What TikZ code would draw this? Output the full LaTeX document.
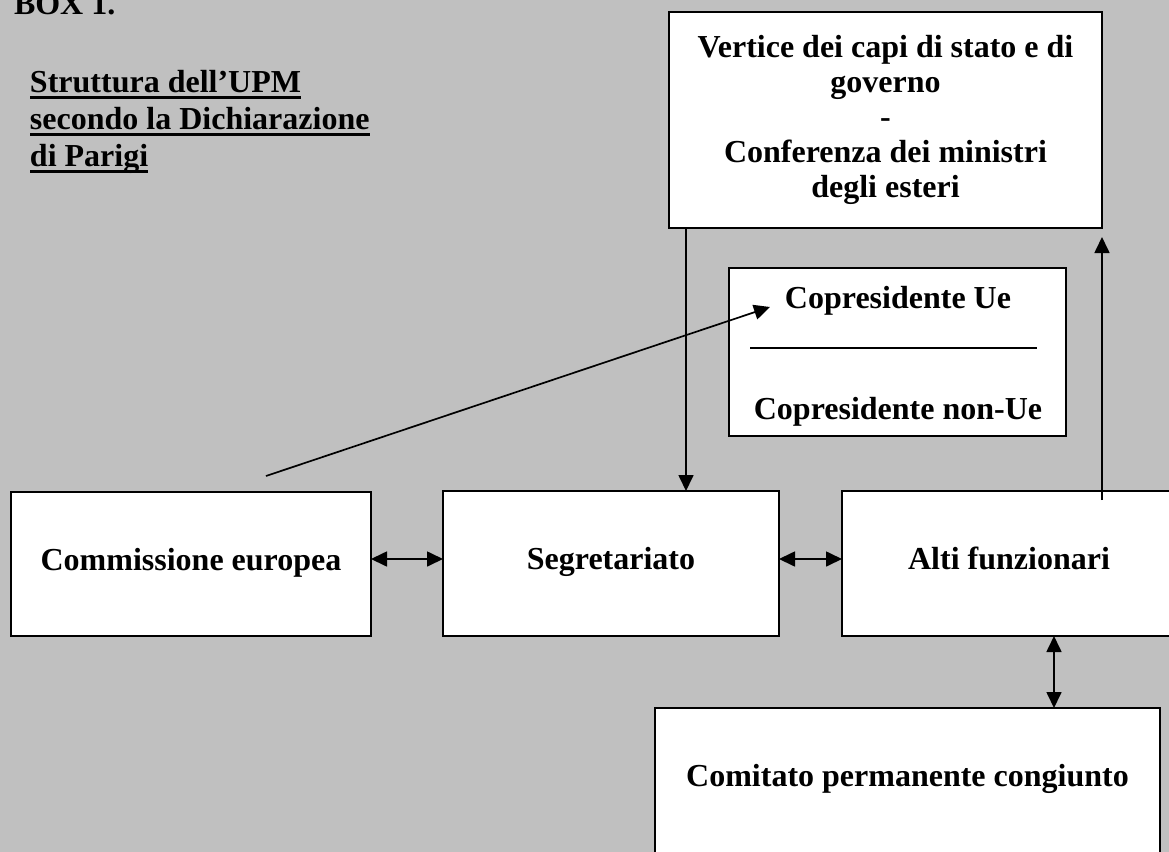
\documentclass[tikz,border=0pt]{standalone}
\usepackage{fontspec}
\setmainfont{Liberation Serif}
\usetikzlibrary{arrows.meta}
\definecolor{bg}{HTML}{C0C0C0}
\begin{document}
\begin{tikzpicture}[x=0.5pt,y=-0.5pt,
  box/.style={draw=black, line width=1pt, fill=white, inner sep=0pt, outer sep=0pt, align=center, font=\bfseries\fontsize{16pt}{17.4pt}\selectfont},
  onebox/.style={box, text height=10pt, text depth=4pt},
  conn/.style={draw=black, line width=0.85pt},
  tip/.style={-{Triangle[length=8pt,width=7.5pt]}},
  dtip/.style={{Triangle[length=8pt,width=7.5pt]}-{Triangle[length=8pt,width=7.5pt]}},
  txt/.style={inner sep=0pt, outer sep=0pt, font=\bfseries\fontsize{16pt}{18.5pt}\selectfont}]
\fill[bg] (0,0) rectangle (1169,852);
\useasboundingbox (0,0) rectangle (1169,852);
\clip (0,0) rectangle (1169,852);

% title
\node[txt, anchor=base west] (box1) at (14,14) {BOX 1.};
\node[txt, anchor=base west] (t1) at (30,92) {Struttura dell’UPM};
\node[txt, anchor=base west] (t2) at (30,129) {secondo la Dichiarazione};
\node[txt, anchor=base west] (t3) at (30,166) {di Parigi};
\foreach \t in {t1,t2,t3}
  \draw[line width=1.5pt] ([yshift=-2.75pt]\t.base west) -- ([yshift=-2.75pt]\t.base east);

% boxes
\node[box, minimum width=216.5pt, minimum height=108pt] (vert) at (885.5,120)
  {Vertice dei capi di stato e di\\governo\\-\\Conferenza dei ministri\\degli esteri};
\node[box, minimum width=168.5pt, minimum height=84pt] (copres) at (897.5,352) {};
\node[txt, anchor=base] (cue) at (898,308) {Copresidente Ue};
\node[txt, anchor=base] (cnue) at (898,419) {Copresidente non-Ue};
\draw[line width=0.6pt] (750,348) -- (1037,348);

\node[onebox, minimum width=180pt, minimum height=72pt] (comm) at (191,564) {Commissione europea};
\node[onebox, minimum width=168pt, minimum height=72.5pt] (seg) at (611,563.5) {Segretariato};
\node[onebox, minimum width=167pt, minimum height=72.5pt] (alti) at (1009,563.5) {Alti funzionari};
\node[onebox, minimum width=252.5pt, minimum height=72.5pt] (comit) at (907.5,780.5) {Comitato permanente congiunto};

% connectors
\coordinate (xa) at (686,0);
\draw[conn,tip] (xa |- vert.south) -- (xa |- seg.north);
\coordinate (ua) at (1102,500);
\coordinate (ub) at (1102,237);
\draw[conn,tip] (ua) -- (ub);
\coordinate (hy) at (0,559);
\draw[conn,dtip] (comm.east |- hy) -- (seg.west |- hy);
\draw[conn,dtip] (seg.east |- hy) -- (alti.west |- hy);
\coordinate (vx) at (1054,0);
\draw[conn,dtip] (vx |- alti.south) -- (vx |- comit.north);
\coordinate (dstart) at (266,476);
\coordinate (dend) at (770,307);
\draw[conn,tip] (dstart) -- (dend);
\end{tikzpicture}
\end{document}
